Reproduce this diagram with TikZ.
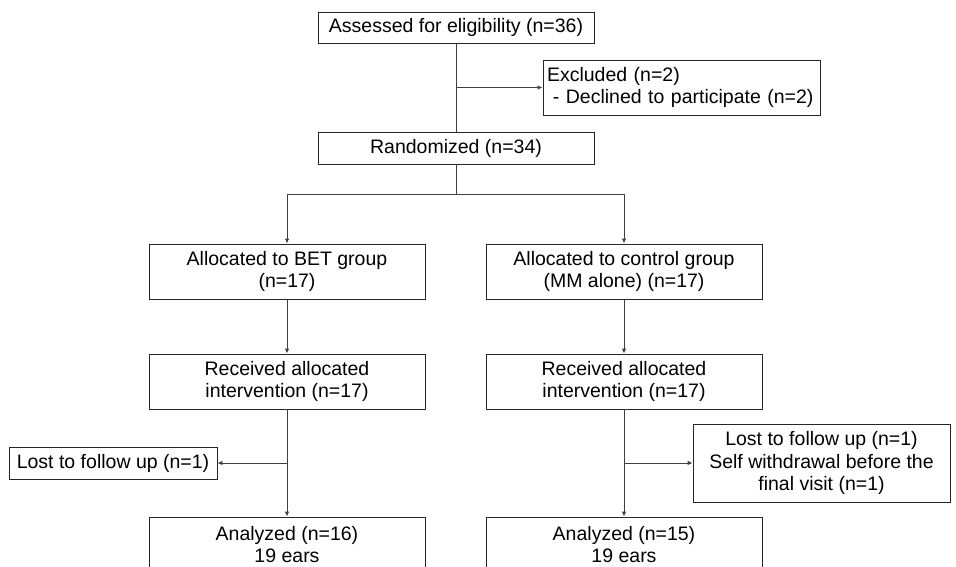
\documentclass[tikz,border=0pt]{standalone}
\usepackage{fontspec}
\setmainfont{Liberation Sans}
\usetikzlibrary{arrows.meta}
\begin{document}
\begin{tikzpicture}[x=1pt,y=-1pt,
  font=\fontsize{19.5}{22.5}\selectfont,
  box/.style={draw=black!85, line width=0.9pt, minimum width=276pt, inner sep=0pt, align=center},
  link/.style={draw=black!75, line width=0.9pt},
  arr/.style={link, -{Latex[length=5pt,width=4.5pt]}}]
  \clip (0,0) rectangle (956,567);
  \fill[white] (0,0) rectangle (956,567);
  \node[box, minimum height=31pt] (assess) at (456,27.5) {Assessed for eligibility (n=36)};
  \node[box, minimum width=277pt, minimum height=55pt, align=left, text width=269pt] (excl) at (681.5,87.5) {Excluded (n=2)\\\hspace{0.3em}- Declined to participate (n=2)};
  \node[box, minimum height=32pt] (rand) at (456,148) {Randomized (n=34)};
  \node[box, minimum height=55pt] (bet) at (287,271.5) {Allocated to BET group\\(n=17)};
  \node[box, minimum height=55pt] (ctrl) at (624,271.5) {Allocated to control group\\(MM alone) (n=17)};
  \node[box, minimum height=55pt] (recb) at (287,381.5) {Received allocated\\intervention (n=17)};
  \node[box, minimum height=55pt] (recc) at (624,381.5) {Received allocated\\intervention (n=17)};
  \node[box, minimum width=208pt, minimum height=32pt] (lostb) at (113,463) {Lost to follow up (n=1)};
  \node[box, minimum width=257pt, minimum height=78pt] (lostc) at (821.5,463) {Lost to follow up (n=1)\\Self withdrawal before the\\final visit (n=1)};
  \node[box, minimum height=55pt] (anb) at (287,544.5) {Analyzed (n=16)\\19 ears};
  \node[box, minimum height=55pt] (anc) at (624,544.5) {Analyzed (n=15)\\19 ears};
  \coordinate (split) at (456,194);
  \draw[link] (assess.south) -- (rand.north);
  \draw[arr] (assess.south |- excl.west) -- (excl.west);
  \draw[link] (rand.south) -- (split);
  \draw[arr] (split) -| (bet.north);
  \draw[arr] (split) -| (ctrl.north);
  \draw[arr] (bet.south) -- (recb.north);
  \draw[arr] (ctrl.south) -- (recc.north);
  \draw[arr] (recb.south) -- (anb.north);
  \draw[arr] (recc.south) -- (anc.north);
  \draw[arr] (recb.south |- lostb.east) -- (lostb.east);
  \draw[arr] (recc.south |- lostc.west) -- (lostc.west);
\end{tikzpicture}
\end{document}
